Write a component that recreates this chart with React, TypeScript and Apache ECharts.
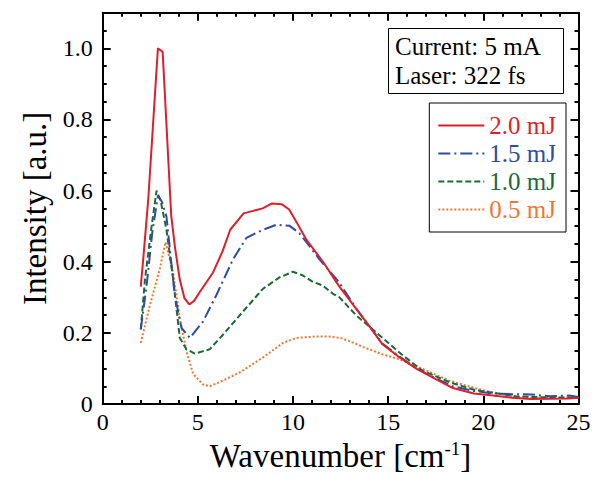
import React, { useEffect, useRef } from "react";
import * as echarts from "echarts";

const FONT = "'Liberation Serif', 'Times New Roman', serif";

const seriesNames = ["2.0 mJ", "1.5 mJ", "1.0 mJ", "0.5 mJ"];
const seriesColors = ["#dc1f2b", "#2e4ca0", "#1c6a35", "#ee7833"];

const x20 = [2.0, 2.15, 2.4, 2.9, 3.15, 3.6, 3.8, 4.05, 4.3, 4.55, 4.8, 5.1, 5.8, 6.3, 6.7, 7.4, 7.9, 8.4, 8.9, 9.4, 9.8, 10.2, 10.7, 11.6, 12.4, 13.3, 14.0, 14.7, 15.5, 16.5, 17.5, 18.4, 19.5, 20.5, 21.5, 22.5, 23.5, 24.5, 25.0];
const y20 = [0.33, 0.42, 0.58, 1.0, 0.99, 0.53, 0.44, 0.35, 0.297, 0.28, 0.29, 0.315, 0.37, 0.43, 0.49, 0.536, 0.543, 0.55, 0.564, 0.562, 0.547, 0.51, 0.462, 0.398, 0.333, 0.269, 0.22, 0.168, 0.135, 0.099, 0.07, 0.045, 0.03, 0.024, 0.018, 0.014, 0.015, 0.016, 0.018];

const x15 = [2.0, 2.3, 2.6, 2.9, 3.1, 3.35, 3.6, 3.79, 4.14, 4.58, 5.27, 5.97, 6.85, 7.55, 8.42, 9.12, 9.82, 10.34, 11.39, 12.44, 13.3, 14.7, 15.5, 16.5, 17.5, 18.4, 19.5, 20.5, 21.5, 22.5, 23.5, 24.5, 25.0];
const y15 = [0.21, 0.33, 0.48, 0.585, 0.57, 0.527, 0.4, 0.306, 0.214, 0.186, 0.232, 0.306, 0.407, 0.467, 0.49, 0.504, 0.501, 0.48, 0.407, 0.341, 0.27, 0.17, 0.137, 0.1, 0.072, 0.05, 0.037, 0.03, 0.028, 0.027, 0.022, 0.024, 0.02];

const x10 = [2.0, 2.22, 2.57, 2.83, 3.05, 3.35, 3.7, 4.05, 4.4, 4.84, 5.62, 6.32, 7.37, 8.42, 9.29, 9.99, 10.5, 11.0, 11.56, 12.1, 12.44, 13.31, 14.7, 15.7, 16.8, 18.2, 19.6, 20.5, 21.7, 22.5, 23.5, 24.5, 25.0];
const y10 = [0.21, 0.35, 0.5, 0.6, 0.57, 0.49, 0.352, 0.186, 0.154, 0.142, 0.154, 0.195, 0.26, 0.324, 0.356, 0.372, 0.362, 0.345, 0.333, 0.31, 0.3, 0.25, 0.186, 0.14, 0.094, 0.062, 0.039, 0.032, 0.022, 0.02, 0.019, 0.018, 0.017];

const x05 = [2.0, 2.48, 3.0, 3.3, 3.7, 4.05, 4.4, 4.75, 5.27, 5.62, 6.32, 7.2, 8.42, 9.47, 10.17, 11.22, 11.9, 12.5, 12.96, 13.8, 14.7, 15.58, 16.8, 18.2, 19.95, 20.8, 21.7, 22.5, 23.5, 24.84, 25.0];
const y05 = [0.172, 0.278, 0.38, 0.455, 0.37, 0.241, 0.149, 0.085, 0.055, 0.05, 0.066, 0.089, 0.131, 0.172, 0.186, 0.19, 0.19, 0.186, 0.177, 0.158, 0.14, 0.126, 0.099, 0.066, 0.039, 0.03, 0.02, 0.018, 0.017, 0.018, 0.018];

const xsList = [x20, x15, x10, x05];
const ysList = [y20, y15, y10, y05];
const dashTypes: any[] = ["solid", [12, 4, 2, 4], [6, 3], [2, 2]];

const infoLines = ["Current: 5 mA", "Laser: 322 fs"];

export default function App() {
  const ref = useRef<HTMLDivElement>(null);
  useEffect(() => {
    if (!ref.current) return;
    const chart = echarts.init(ref.current, null, { renderer: "svg" });
    const black = "#000";
    const tickStyle = { color: black, width: 2 };
    const baseX = {
      type: "value",
      min: 0,
      max: 25,
      interval: 5,
      splitLine: { show: false },
      axisLine: { show: true, onZero: false, lineStyle: { color: black, width: 2 } },
      axisTick: { show: true, inside: true, length: 8, lineStyle: tickStyle },
      minorTick: { show: true, splitNumber: 5, length: 4, lineStyle: tickStyle },
      minorSplitLine: { show: false },
    };
    const yMajor = {
      type: "value",
      min: 0,
      max: 1.1,
      interval: 0.2,
      splitLine: { show: false },
      axisLine: { show: true, onZero: false, lineStyle: { color: black, width: 2 } },
      axisTick: { show: true, inside: true, length: 8, lineStyle: tickStyle },
    };
    const yMinor = {
      type: "value",
      min: 0,
      max: 1.1,
      interval: 0.05,
      splitLine: { show: false },
      axisLine: { show: false, onZero: false },
      axisTick: { show: true, inside: true, length: 4, lineStyle: tickStyle },
      axisLabel: { show: false },
    };
    chart.setOption({
      animation: false,
      backgroundColor: "#fff",
      textStyle: { fontFamily: FONT },
      title: {
        text: infoLines.join("\n"),
        left: 388,
        top: 28,
        padding: [4, 23, 4, 7],
        borderColor: black,
        borderWidth: 1,
        textStyle: { fontFamily: FONT, fontSize: 25, fontWeight: "normal", color: black, lineHeight: 29 },
      },
      legend: {
        orient: "vertical",
        right: 33,
        top: 103,
        padding: [10, 10, 10, 8],
        itemGap: 3,
        itemWidth: 46,
        itemHeight: 14,
        borderColor: black,
        borderWidth: 1,
        itemStyle: { opacity: 0 },
        textStyle: { fontFamily: FONT, fontSize: 25 },
        data: seriesNames.map((n, i) => ({ name: n, textStyle: { color: seriesColors[i], fontFamily: FONT } })),
      },
      grid: { left: 102.7, right: 20.5, top: 12.7, bottom: 66.3 },
      xAxis: [
        {
          ...baseX,
          position: "bottom",
          axisLabel: { fontFamily: FONT, fontSize: 24, color: black, margin: 6 },
          name: "Wavenumber [cm{sup|-1}]",
          nameLocation: "middle",
          nameGap: 28,
          nameTextStyle: {
            fontFamily: FONT,
            fontSize: 33,
            color: black,
            rich: { sup: { fontFamily: FONT, fontSize: 19, color: black, verticalAlign: "top", lineHeight: 33 } },
          },
        },
        { ...baseX, position: "top", axisLabel: { show: false } },
      ],
      yAxis: [
        {
          ...yMajor,
          position: "left",
          axisLabel: {
            fontFamily: FONT,
            fontSize: 24,
            color: black,
            margin: 10,
            showMaxLabel: false,
            formatter: (v: number) => (v === 0 ? "0" : v.toFixed(1)),
          },
          name: "Intensity [a.u.]",
          nameLocation: "middle",
          nameGap: 50,
          nameTextStyle: { fontFamily: FONT, fontSize: 33, color: black },
        },
        { ...yMinor, position: "left" },
        { ...yMajor, position: "right", axisLabel: { show: false } },
        { ...yMinor, position: "right" },
      ],
      series: seriesNames.map((n, i) => ({
        name: n,
        type: "line",
        xAxisIndex: 0,
        yAxisIndex: 0,
        symbol: "none",
        smooth: false,
        lineStyle: { color: seriesColors[i], width: 2, type: dashTypes[i] },
        itemStyle: { color: seriesColors[i] },
        data: xsList[i].map((x, k) => [x, ysList[i][k]]),
        z: 10 - i,
      })),
    });
    return () => chart.dispose();
  }, []);
  return <div ref={ref} style={{ position: "fixed", left: 0, top: 0, width: 599, height: 477 }} />;
}
